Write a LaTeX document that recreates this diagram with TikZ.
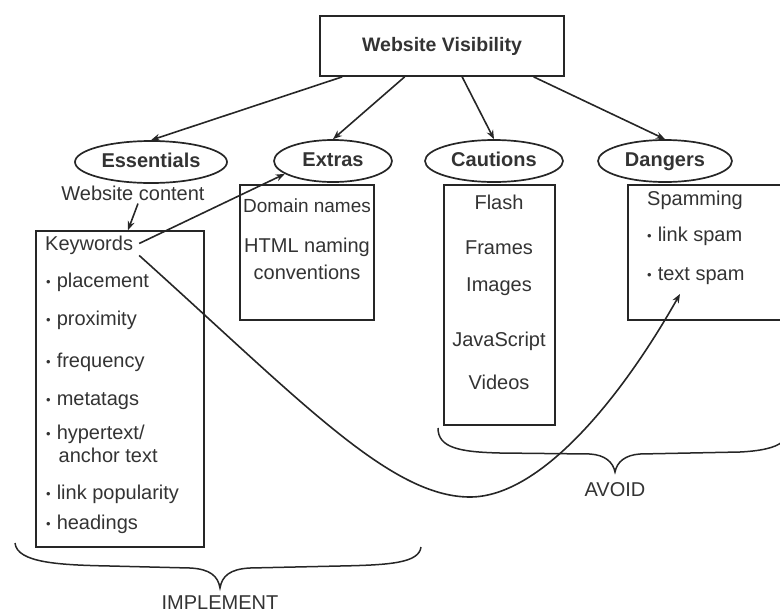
\documentclass[tikz,border=0pt]{standalone}
\usepackage{fontspec}
\setmainfont{Liberation Sans}
\usetikzlibrary{shapes.geometric,arrows.meta,calc}
\newcommand{\bul}{{\fontsize{13}{13}\selectfont\raisebox{0.8pt}{•}}\hspace{6pt}}
\begin{document}
\begin{tikzpicture}[x=1pt,y=-1pt,
  every node/.style={font=\fontsize{20}{23}\selectfont, text=black!80},
  lbl/.style={inner sep=0pt},
  bx/.style={draw=black!85, line width=1.7pt, rectangle, inner sep=0pt},
  ell/.style={draw=black!85, line width=1.7pt, ellipse, inner sep=0pt, text height=14pt, text depth=3pt, font=\fontsize{20}{23}\selectfont\bfseries},
  arr/.style={draw=black!85, line width=1.6pt, -{Stealth[length=9pt,width=7pt]}},
  brc/.style={draw=black!85, line width=1.5pt}]
\useasboundingbox (0,0) rectangle (780,614);

% top box
\node[bx, minimum width=244pt, minimum height=60pt, font=\fontsize{19.5}{22}\selectfont\bfseries] (wv) at (442,46) {Website Visibility};

% ellipses
\node[ell, minimum width=152pt, minimum height=42pt] (ess) at (151,162) {Essentials};
\node[ell, minimum width=118pt, minimum height=42pt] (ext) at (333,161) {Extras};
\node[ell, minimum width=138pt, minimum height=42pt] (cau) at (494,161) {Cautions};
\node[ell, minimum width=134pt, minimum height=42pt] (dan) at (665,161) {Dangers};

% boxes
\node[bx, minimum width=168pt, minimum height=316pt] (kwbox) at (120,389) {};
\node[bx, minimum width=134pt, minimum height=135pt] (exbox) at (307,252.5) {};
\node[bx, minimum width=111pt, minimum height=240pt] (cabox) at (499.5,305) {};
\node[bx, minimum width=162pt, minimum height=135pt] (dabox) at (709,252.5) {};

% Essentials texts
\node[lbl] (wc) at (133,193) {Website content};
\node[lbl, anchor=mid west] (kw) at (45,248) {Keywords};
\node[lbl, anchor=mid west] (k1) at (46,285) {\bul placement};
\node[lbl, anchor=mid west] (k2) at (46,323) {\bul proximity};
\node[lbl, anchor=mid west] (k3) at (46,365) {\bul frequency};
\node[lbl, anchor=mid west] (k4) at (46,403) {\bul metatags};
\node[lbl, anchor=mid west] (k5) at (46,437) {\bul hypertext/};
\node[lbl, anchor=mid west] (k5b) at (58.5,460) {anchor text};
\node[lbl, anchor=mid west] (k6) at (46,497) {\bul link popularity};
\node[lbl, anchor=mid west] (k7) at (46,527) {\bul headings};

% Extras texts
\node[lbl, anchor=mid, font=\fontsize{19}{22}\selectfont] (e1) at (307,210) {Domain names};
\node[lbl, anchor=mid] (e2) at (307,250) {HTML naming};
\node[lbl, anchor=mid] (e3) at (307,277) {conventions};

% Cautions texts
\node[lbl, anchor=mid] (c1) at (499,207) {Flash};
\node[lbl, anchor=mid] (c2) at (499,252) {Frames};
\node[lbl, anchor=mid] (c3) at (499,289) {Images};
\node[lbl, anchor=mid] (c4) at (499,344) {JavaScript};
\node[lbl, anchor=mid] (c5) at (499,387) {Videos};

% Dangers texts
\node[lbl, anchor=mid west] (d1) at (647,203) {Spamming};
\node[lbl, anchor=mid west] (d2) at (647,239) {\bul link spam};
\node[lbl, anchor=mid west] (ts) at (647,278) {\bul text spam};

% arrows from top
\draw[arr] ($(wv.south west)!0.094!(wv.south east)$) -- (ess.north);
\draw[arr] ($(wv.south west)!0.348!(wv.south east)$) -- (ext.north);
\draw[arr] ($(wv.south west)!0.582!(wv.south east)$) -- (cau.north);
\draw[arr] ($(wv.south west)!0.873!(wv.south east)$) -- (dan.north);

\draw[arr] ($(wc.south)+(5,3)$) -- ($(kwbox.north)+(8,0)$);
\draw[arr] ($(kw.east)+(6,-2)$) -- (ext.195);
\draw[arr] ($(kw.east)+(6,10)$) .. controls (300,400) and (390,497) .. (470,497)
   .. controls (540,497) and (620,400) .. ($(ts.south west)+(33,9)$);

% braces
\draw[brc] (15,543) .. controls (17,563) and (60,565) .. (110,566) -- (190,568)
   .. controls (210,569) and (218,576) .. (220,588)
   .. controls (222,576) and (230,569) .. (250,568) -- (340,566)
   .. controls (390,565) and (419,563) .. (421,547);
\node[lbl] (imp) at (220,603) {IMPLEMENT};

\draw[brc] (438,428) .. controls (438,448) and (460,452) .. (500,453) -- (590,454)
   .. controls (605,455) and (613,462) .. (615,472)
   .. controls (617,462) and (625,455) .. (640,454) -- (740,452)
   .. controls (760,451) and (775,448) .. (782,442);
\node[lbl] (avd) at (615,490) {AVOID};
\end{tikzpicture}
\end{document}
